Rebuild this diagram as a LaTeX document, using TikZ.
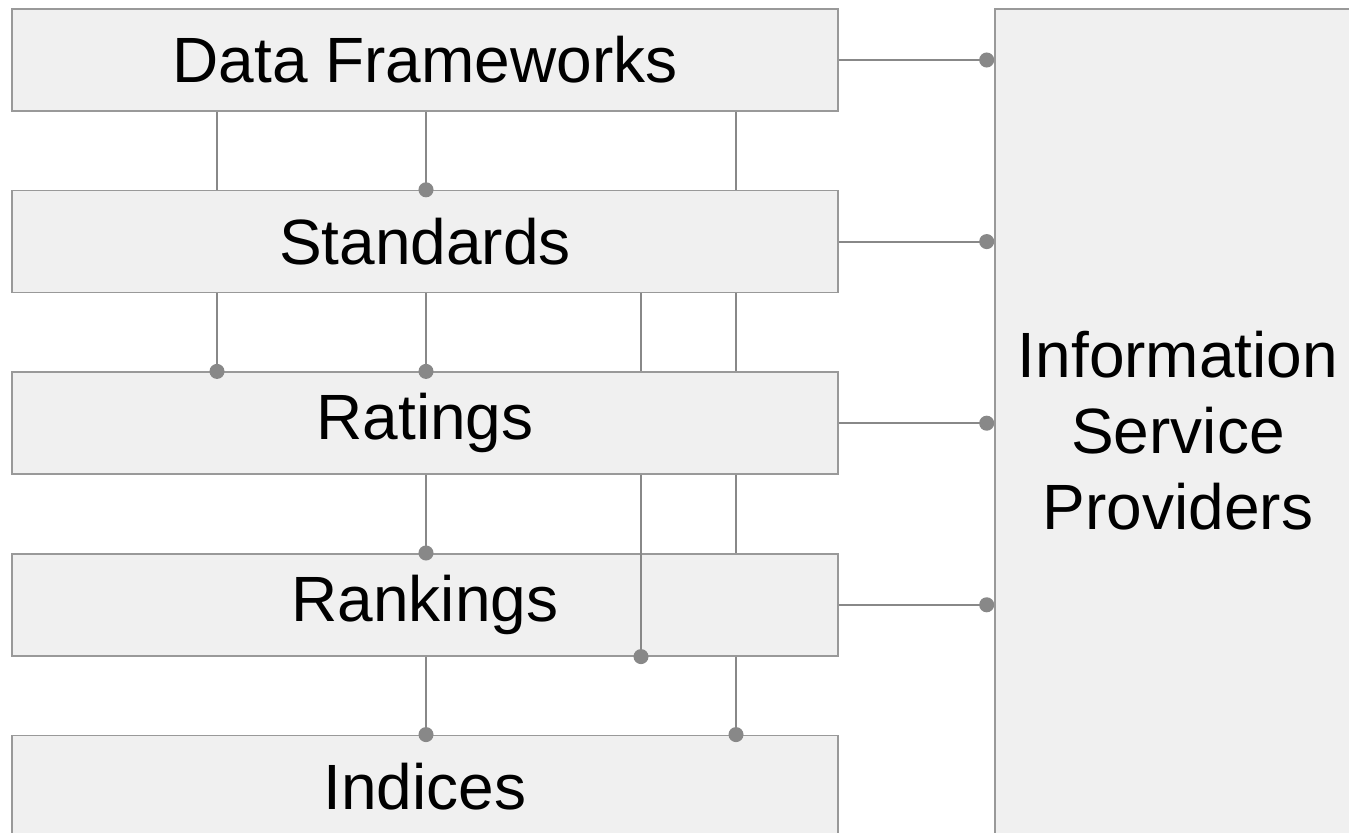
\documentclass[tikz,border=0pt]{standalone}
\usepackage{fontspec}
\setmainfont{Liberation Sans}
\usepackage{tikz}
\usetikzlibrary{positioning,arrows.meta}

\definecolor{boxfill}{HTML}{F0F0F0}
\definecolor{boxline}{HTML}{999999}
\definecolor{linkgray}{HTML}{888888}

\tikzset{
  layer/.style={draw=boxline, fill=boxfill, line width=0.8pt, minimum width=413pt,
    minimum height=51pt, inner sep=0pt, font=\fontsize{32}{38}\selectfont},
  link/.style={draw=linkgray, line width=1pt},
  dot/.style={link, -{Circle[length=7.5pt]}},
  dotmid/.style={dot, shorten >=-3.75pt},
}

\begin{document}
\begin{tikzpicture}[x=0.5pt, y=-0.5pt, node distance=39pt]
        \useasboundingbox (0,0) rectangle (1349,833);

        % NODES
        % -----------------

        \node[layer]                    (frameworks) at (425,60) {Data Frameworks};
        \node[layer, below=of frameworks] (standards)  {Standards};
        \node[layer, below=of standards]  (ratings)    {Ratings};
        \node[layer, below=of ratings]    (rankings)   {Rankings};
        \node[layer, below=of rankings]   (indices)    {Indices};

        \node[layer, minimum width=183pt, minimum height=422pt, align=center]
              (providers) at (1178,431) {Information\\Service\\Providers};

        % columns of the vertical links
        \coordinate (col_a) at (217,0);
        \coordinate (col_b) at (426,0);
        \coordinate (col_c) at (641,0);
        \coordinate (col_d) at (736,0);

        % EDGES
        % -----------------

        % to the providers
        \foreach \src in {frameworks, standards, ratings, rankings}
          \draw[dot] (\src.east) -- (\src.east -| providers.west);

        % column a
        \draw[link]    (frameworks.south -| col_a) -- (standards.north -| col_a);
        \draw[dotmid]  (standards.south -| col_a)  -- (ratings.north -| col_a);

        % column b
        \draw[dotmid]  (frameworks.south -| col_b) -- (standards.north -| col_b);
        \draw[dotmid]  (standards.south -| col_b)  -- (ratings.north -| col_b);
        \draw[dotmid]  (ratings.south -| col_b)    -- (rankings.north -| col_b);
        \draw[dotmid]  (rankings.south -| col_b)   -- (indices.north -| col_b);

        % column c
        \draw[link]    (standards.south -| col_c)  -- (ratings.north -| col_c);
        \draw[dotmid]  (ratings.south -| col_c)    -- (rankings.south -| col_c);

        % column d
        \draw[link]    (frameworks.south -| col_d) -- (standards.north -| col_d);
        \draw[link]    (standards.south -| col_d)  -- (ratings.north -| col_d);
        \draw[link]    (ratings.south -| col_d)    -- (rankings.north -| col_d);
        \draw[dotmid]  (rankings.south -| col_d)   -- (indices.north -| col_d);

\end{tikzpicture}
\end{document}
